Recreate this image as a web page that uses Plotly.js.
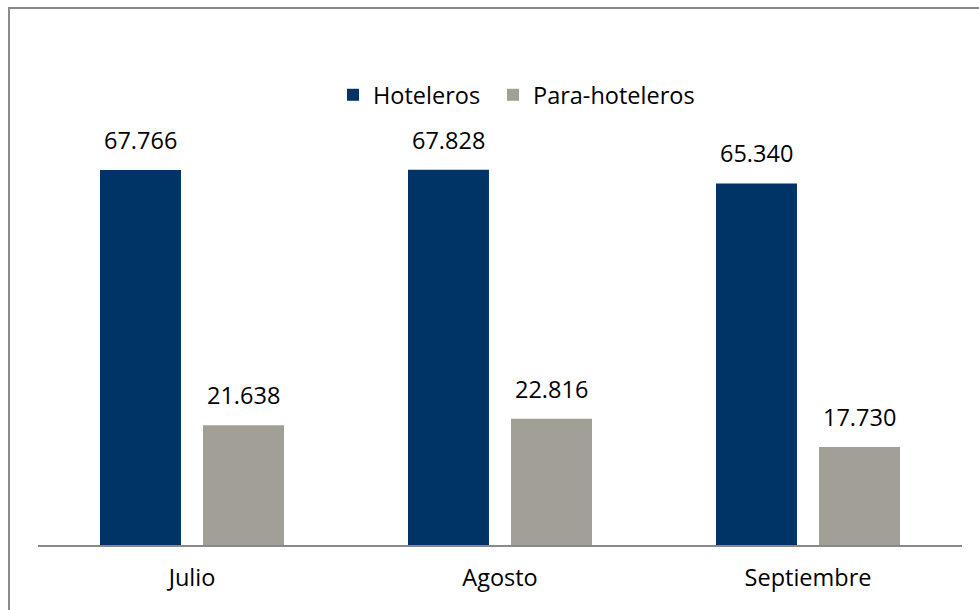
<!DOCTYPE html>
<html>
<head>
<meta charset="utf-8">
<script src="https://cdn.plot.ly/plotly-3.0.1.min.js"></script>
<style>
  html, body { margin: 0; padding: 0; background: #fff; }
  #chart { width: 979px; height: 610px; }
</style>
</head>
<body>
<div id="chart"></div>
<script>
const categories = ['Julio', 'Agosto', 'Septiembre'];
const hoteleros = [67766, 67828, 65340];
const paraHoteleros = [21638, 22816, 17730];
const seriesNames = ['Hoteleros', 'Para-hoteleros'];
const seriesColors = ['#003366', '#A29F97'];

const W = 979, H = 610;
const M = { l: 38, r: 17, t: 60, b: 65 };
const plotW = W - M.l - M.r, plotH = H - M.t - M.b;
const FONT = '"Open Sans", "Noto Sans", sans-serif';
const FS = 23.5;

function fmt(v) { return String(v).replace(/\B(?=(\d{3})+(?!\d))/g, '.'); }

const allSeries = [hoteleros, paraHoteleros];
const legendIds = ['legend', 'legend2'];
const traces = allSeries.map((vals, s) => ({
  type: 'bar',
  name: seriesNames[s],
  x: categories,
  y: vals,
  legend: legendIds[s],
  marker: { color: seriesColors[s], line: { width: 0 } },
  hoverinfo: 'none'
}));

const annotations = [];
allSeries.forEach((vals, s) => {
  vals.forEach((v, i) => {
    annotations.push({
      x: categories[i], y: v, xref: 'x', yref: 'y',
      xshift: s === 0 ? -51.5 : 51.5, yshift: 12,
      yanchor: 'bottom', showarrow: false,
      text: fmt(v),
      font: { family: FONT, size: FS, color: '#000' }
    });
  });
});

// frame lines (top and left) in paper coordinates
const px2x = px => (px - M.l) / plotW;
const py2y = py => (H - M.b - py) / plotH;
const shapes = [
  { type: 'line', xref: 'paper', yref: 'paper', x0: px2x(8), x1: px2x(979), y0: py2y(8), y1: py2y(8), line: { color: '#8a8a8a', width: 2 } },
  { type: 'line', xref: 'paper', yref: 'paper', x0: px2x(9), x1: px2x(9), y0: py2y(7), y1: py2y(610), line: { color: '#8a8a8a', width: 2 } }
];

function legendAt(px) {
  return {
    orientation: 'h', x: px2x(px), xanchor: 'left', y: py2y(95), yanchor: 'middle',
    font: { family: FONT, size: FS, color: '#000' },
    bgcolor: 'rgba(0,0,0,0)', itemclick: false, itemdoubleclick: false
  };
}

const layout = {
  width: W, height: H,
  margin: M,
  paper_bgcolor: '#fff', plot_bgcolor: '#fff',
  font: { family: FONT, size: FS, color: '#000' },
  barmode: 'group',
  bargap: 0.331,
  bargroupgap: 0.214,
  showlegend: true,
  legend: legendAt(333),
  legend2: legendAt(493),
  xaxis: {
    showline: true, linecolor: '#898989', linewidth: 2,
    ticks: '', showgrid: false, zeroline: false,
    tickfont: { family: FONT, size: FS, color: '#000' },
    ticklabelstandoff: 11, fixedrange: true
  },
  yaxis: {
    visible: false, range: [0, 87640], fixedrange: true
  },
  annotations: annotations,
  shapes: shapes
};

Plotly.newPlot('chart', traces, layout, { displayModeBar: false, staticPlot: true });
</script>
</body>
</html>
